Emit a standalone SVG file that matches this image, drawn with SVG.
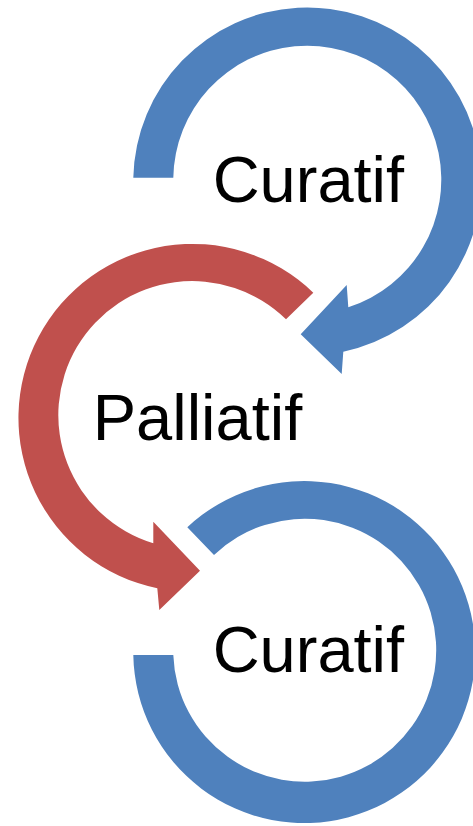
<svg xmlns="http://www.w3.org/2000/svg" width="473" height="826" viewBox="0 0 473 826">
  <style>
    .blue { fill: #4F81BD; }
    .red { fill: #C0504D; }
    .label { font-family: "Liberation Sans", Arial, sans-serif; font-size: 65px; fill: #000000; text-anchor: middle; }
  </style>
  <rect x="0" y="0" width="473" height="826" fill="#FFFFFF"/>
  <g id="node-curatif-top">
    <path class="blue" d="M 133.3 177.7 A 174 174 0 1 1 343.3 351.7 L 341.7 374 L 300.7 334.3 L 346.7 285 L 348.3 307.3 A 134 134 0 1 0 173.3 177.7 Z"/>
    <text class="label" x="308.4" y="201.7">Curatif</text>
  </g>
  <g id="node-palliatif">
    <path class="red" d="M 313.3 292.7 A 174 174 0 1 0 157.3 588.3 L 159.3 610 L 200 570.7 L 153.3 521.7 L 153.3 543.3 A 134 134 0 1 1 286 319.3 Z"/>
    <text class="label" x="197.5" y="440">Palliatif</text>
  </g>
  <g id="node-curatif-bottom">
    <path class="blue" d="M 187.3 527.3 A 171 171 0 1 1 133.3 655 L 173.3 655 A 131.5 131.5 0 1 0 214 555 Z"/>
    <text class="label" x="308.4" y="671.7">Curatif</text>
  </g>
</svg>
